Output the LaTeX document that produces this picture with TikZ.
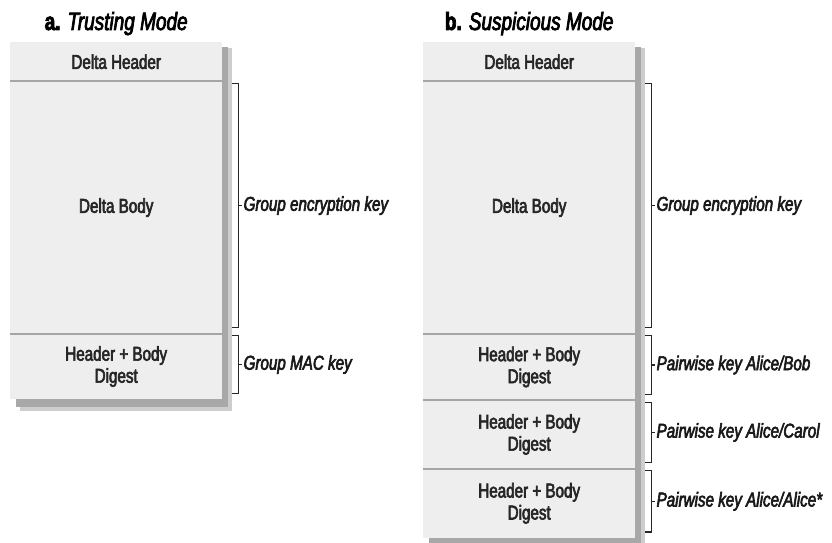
\documentclass[tikz,border=0pt]{standalone}
\usepackage{fontspec}
\setmainfont{Liberation Sans}[FakeStretch=0.76,FakeBold=3]
\usetikzlibrary{calc,backgrounds}
\definecolor{pane}{HTML}{EEEEEE}
\definecolor{rule}{HTML}{A6A6A6}
\definecolor{dropdk}{HTML}{A8A8A8}
\definecolor{droplt}{HTML}{CDCDCD}

\begin{document}
\begin{tikzpicture}[x=1pt,y=-1pt,
    sect/.style={rectangle,fill=pane,anchor=north west,inner sep=0pt,minimum width=212pt,align=center,font=\fontsize{20}{22}\selectfont,text=black!85},
    title/.style={anchor=base,font=\fontsize{25}{28}\selectfont},
    keylbl/.style={anchor=west,inner xsep=1pt,inner ysep=0pt,font=\fontsize{20}{22}\selectfont\itshape,text=black!90},
    sep/.style={rule,line width=2pt},
    brk/.style={black!85,line width=1.2pt},
]
\useasboundingbox (0,0) rectangle (832,543);

% a. trusting mode
\node[sect,minimum height=39pt] (ahdr) at (10,42) {Delta Header};
\node[sect,minimum height=252pt] (abody) at (ahdr.south west) {Delta Body};
\node[sect,minimum height=65pt] (adig) at (abody.south west) {Header + Body\\Digest};
\node[title] (atitle) at ($(ahdr.north)+(0,-12)$) {\textbf{a.} \textit{Trusting Mode}};
\draw[sep] (ahdr.south west) -- (ahdr.south east);
\draw[sep] (abody.south west) -- (abody.south east);

% b. suspicious mode
\node[sect,minimum height=39pt] (bhdr) at (423,42) {Delta Header};
\node[sect,minimum height=252pt] (bbody) at (bhdr.south west) {Delta Body};
\node[sect,minimum height=66pt] (bdig1) at (bbody.south west) {Header + Body\\Digest};
\node[sect,minimum height=68pt] (bdig2) at (bdig1.south west) {Header + Body\\Digest};
\node[sect,minimum height=69pt] (bdig3) at (bdig2.south west) {Header + Body\\Digest};
\node[title] (btitle) at ($(bhdr.north)+(0,-12)$) {\textbf{b.} \textit{Suspicious Mode}};
\foreach \s in {bhdr,bbody,bdig1,bdig2}
  \draw[sep] (\s.south west) -- (\s.south east);

% drop shadows
\begin{scope}[on background layer]
  \fill[droplt] ($(ahdr.north west)+(10,6)$) rectangle ($(adig.south east)+(10,12)$);
  \fill[dropdk] ($(ahdr.north west)+(6,5)$) rectangle ($(adig.south east)+(6,8)$);
  \fill[droplt] ($(bhdr.north west)+(10,6)$) rectangle ($(bdig3.south east)+(10,12)$);
  \fill[dropdk] ($(bhdr.north west)+(6,5)$) rectangle ($(bdig3.south east)+(6,8)$);
\end{scope}

% key brackets
\foreach \sec/\key/\txt in {abody/aenc/Group encryption key, adig/amac/Group MAC key,
    bbody/benc/Group encryption key, bdig1/bbob/{Pairwise key Alice/Bob},
    bdig2/bcarol/{Pairwise key Alice/Carol}, bdig3/balice/{Pairwise key Alice/Alice*}}{
  \draw[brk] ($(\sec.north east)+(10,2)$) -- ++(6,0) -- ($(\sec.south east)+(16,-6)$) -- ++(-6,0);
  \node[keylbl] (\key) at ($(\sec.east)+(20,-2)$) {\txt};
  \draw[brk] ($(\sec.east)+(16,-2)$) -- (\key.west);
}
\end{tikzpicture}
\end{document}
